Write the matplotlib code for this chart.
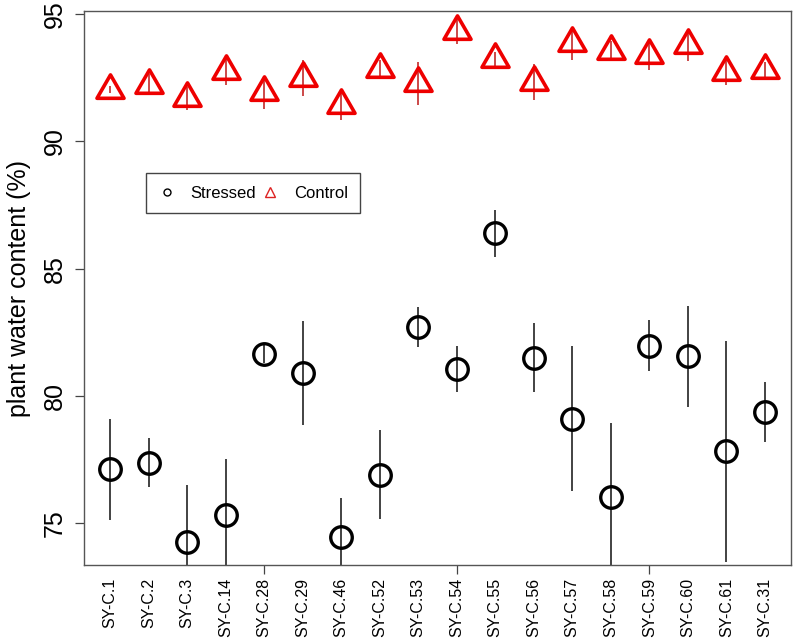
import matplotlib
matplotlib.use("Agg")
import matplotlib.pyplot as plt
from matplotlib.path import Path
from matplotlib.markers import MarkerStyle
from matplotlib.lines import Line2D
import numpy as np

plt.rcParams['font.family'] = ['Liberation Sans', 'DejaVu Sans']

genotypes = ["SY-C.1", "SY-C.2", "SY-C.3", "SY-C.14", "SY-C.28", "SY-C.29",
             "SY-C.46", "SY-C.52", "SY-C.53", "SY-C.54", "SY-C.55", "SY-C.56",
             "SY-C.57", "SY-C.58", "SY-C.59", "SY-C.60", "SY-C.61", "SY-C.31"]
stressed_mean = [77.12, 77.37, 74.25, 75.32, 81.64, 80.89, 74.45, 76.90, 82.71,
                 81.07, 86.39, 81.51, 79.10, 76.05, 81.98, 81.55, 77.82, 79.36]
stressed_se = [1.98, 0.96, 2.24, 2.22, 0.35, 2.05, 1.53, 1.75, 0.78,
               0.91, 0.93, 1.36, 2.85, 2.90, 1.00, 2.00, 4.35, 1.17]
control_mean = [92.02, 92.23, 91.70, 92.78, 91.92, 92.48, 91.43, 92.85, 92.28,
                94.32, 93.23, 92.33, 93.86, 93.56, 93.38, 93.77, 92.72, 92.80]
control_se = [0.14, 0.42, 0.45, 0.55, 0.64, 0.70, 0.58, 0.36, 0.85,
              0.49, 0.27, 0.69, 0.65, 0.40, 0.56, 0.60, 0.49, 0.33]
y_ticks = [75, 80, 85, 90, 95]
x_ticks = [5, 10, 15]

x = np.arange(1, len(genotypes) + 1)
sm, ss = np.array(stressed_mean), np.array(stressed_se)
cm, cs = np.array(control_mean), np.array(control_se)

# R-style triangle (centroid at the data point)
tri_path = Path([(0, 1), (0.866, -0.5), (-0.866, -0.5), (0, 1)],
                [Path.MOVETO, Path.LINETO, Path.LINETO, Path.CLOSEPOLY])
tri = MarkerStyle(tri_path, joinstyle='miter')

fig = plt.figure(figsize=(7.93, 6.42), dpi=100)
ax = fig.add_axes([0.1057, 0.1199, 0.8918, 0.8630])

ax.vlines(x, sm - ss, sm + ss, colors='#222222', linewidth=1.2, zorder=2)
ax.vlines(x, cm - cs, cm + cs, colors='#c42a2a', linewidth=1.2, zorder=2)
ax.plot(x, sm, linestyle='none', marker='o', markersize=15.5, markerfacecolor='none',
        markeredgecolor='black', markeredgewidth=2.4, zorder=3)
ax.plot(x, cm, linestyle='none', marker=tri, markersize=22.5, markerfacecolor='none',
        markeredgecolor='#ee0000', markeredgewidth=2.6, zorder=3)

ax.set_xlim(0.32, 18.68)
ax.set_ylim(73.36, 95.12)

ax.set_yticks(y_ticks)
ax.set_yticklabels([str(v) for v in y_ticks], rotation=90, va='center', fontsize=18)

ax.xaxis.remove_overlapping_locs = False
ax.set_xticks(x)
ax.set_xticklabels(genotypes, rotation=90, fontsize=11.5, va='top')
ax.tick_params(axis='x', which='major', length=0, pad=9)
ax.set_xticks(x_ticks, minor=True)
ax.tick_params(axis='x', which='minor', length=6.5, width=0.9, color='#444444')
ax.tick_params(axis='y', which='major', length=6.5, width=0.9, color='#444444', pad=6)

for s in ax.spines.values():
    s.set_color('#555555')
    s.set_linewidth(1.0)

ax.set_ylabel("plant water content (%)", fontsize=18, labelpad=8)

handles = [Line2D([], [], linestyle='none', marker='o', markersize=5, markerfacecolor='none',
                  markeredgecolor='black', markeredgewidth=1.0),
           Line2D([], [], linestyle='none', marker='^', markersize=7, markerfacecolor='none',
                  markeredgecolor='#dd2222', markeredgewidth=1.0)]
leg = ax.legend(handles, ["Stressed", "Control"], ncol=2, loc='upper left',
                bbox_to_anchor=(0.0875, 0.707), borderaxespad=0, fancybox=False,
                framealpha=1, edgecolor='#444444', fontsize=12, handlelength=1.0,
                handletextpad=0.9, columnspacing=0.4, borderpad=0.75)
leg.get_frame().set_linewidth(1.0)

fig.savefig("out.png", dpi=100)
